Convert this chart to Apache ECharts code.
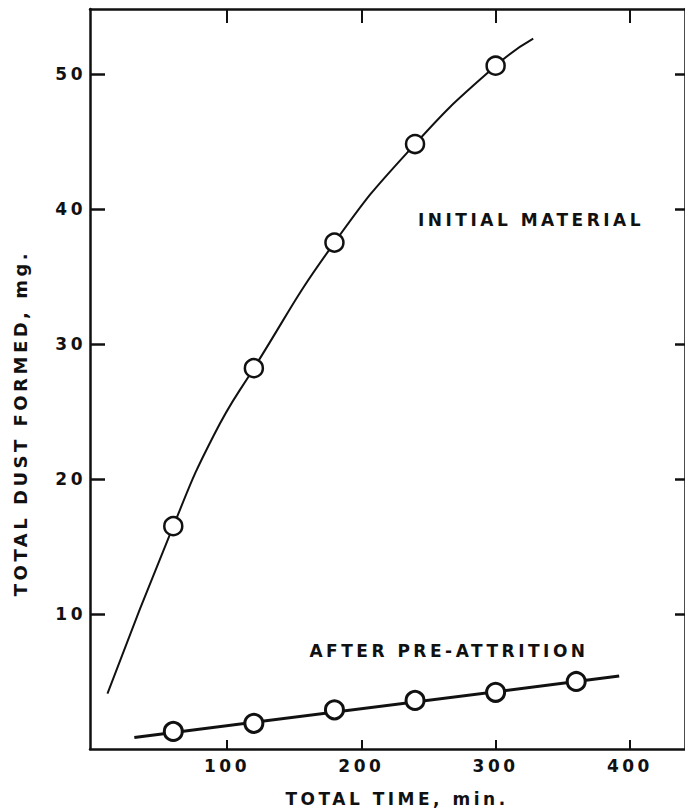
<!DOCTYPE html>
<html>
<head>
<meta charset="utf-8">
<script src="https://cdn.jsdelivr.net/npm/echarts@6/dist/echarts.min.js"></script>
<style>
  html, body { margin: 0; padding: 0; background: #fff; }
  #chart { width: 685px; height: 812px; }
  #chart text { letter-spacing: 3.5px; }
</style>
</head>
<body>
<div id="chart"></div>
<script>
// ---- data ----
const xTicks = [100, 200, 300, 400];
const yTicks = [10, 20, 30, 40, 50];

const timeInitial = [60, 120, 180, 240, 300];
const dustInitial = [16.5, 28.2, 37.5, 44.8, 50.6];

const initialCurveTime = [11, 60, 90, 120, 180, 240, 300, 328];
const initialCurveDust = [4.1, 16.5, 23.2, 28.2, 37.5, 44.8, 50.6, 52.6];

const timeAfter = [60, 120, 180, 240, 300, 360];
const dustAfter = [1.3, 1.9, 2.9, 3.6, 4.2, 5.0];

const afterLineTime = [31, 392];
const afterLineDust = [0.85, 5.4];

const xTitle = 'TOTAL TIME, min.';
const yTitle = 'TOTAL DUST FORMED, mg.';
const labelInitial = 'INITIAL MATERIAL';
const labelAfter = 'AFTER PRE-ATTRITION';

// ---- helpers ----
const zip = (a, b) => a.map((v, i) => [v, b[i]]);
const INK = '#111';
const FONT = 'DejaVu Sans';
const txt = { color: INK, fontFamily: FONT, fontWeight: 'bold', fontSize: 17 };

const chart = echarts.init(document.getElementById('chart'), null, { renderer: 'svg' });

const frameLine = { show: true, onZero: false, lineStyle: { color: INK, width: 2.5 } };

chart.setOption({
  animation: false,
  backgroundColor: '#fff',
  grid: { left: 90, right: -3, top: 9, bottom: 63, containLabel: false },
  xAxis: [
    {
      type: 'value', min: -2, max: 441, position: 'bottom',
      axisLine: frameLine,
      axisTick: { show: true, inside: true, length: 9, customValues: xTicks, lineStyle: { color: INK, width: 2 } },
      axisLabel: { show: true, customValues: xTicks, margin: 8, ...txt },
      splitLine: { show: false }
    },
    {
      type: 'value', min: -2, max: 441, position: 'top',
      axisLine: frameLine,
      axisTick: { show: true, inside: true, length: 14, customValues: xTicks, lineStyle: { color: INK, width: 2 } },
      axisLabel: { show: false },
      splitLine: { show: false }
    }
  ],
  yAxis: [
    {
      type: 'value', min: 0, max: 54.8, position: 'left',
      axisLine: frameLine,
      axisTick: { show: true, inside: true, length: 15, customValues: yTicks, lineStyle: { color: INK, width: 2.5 } },
      axisLabel: { show: true, customValues: yTicks, margin: 4, ...txt },
      splitLine: { show: false }
    },
    {
      type: 'value', min: 0, max: 54.8, position: 'right',
      axisLine: frameLine,
      axisTick: { show: true, inside: true, length: 10, customValues: yTicks, lineStyle: { color: INK, width: 2.5 } },
      axisLabel: { show: false },
      splitLine: { show: false }
    }
  ],
  series: [
    {
      type: 'line', name: 'initial curve',
      data: zip(initialCurveTime, initialCurveDust),
      showSymbol: false, smooth: 0.5,
      lineStyle: { color: INK, width: 2 }, z: 2
    },
    {
      type: 'scatter', name: labelInitial,
      data: zip(timeInitial, dustInitial),
      symbol: 'circle', symbolSize: 18,
      itemStyle: { color: '#fff', borderColor: INK, borderWidth: 2.5, opacity: 1 }, z: 4
    },
    {
      type: 'line', name: 'after line',
      data: zip(afterLineTime, afterLineDust),
      showSymbol: false,
      lineStyle: { color: INK, width: 3 }, z: 2
    },
    {
      type: 'scatter', name: labelAfter,
      data: zip(timeAfter, dustAfter),
      symbol: 'circle', symbolSize: 18,
      itemStyle: { color: '#fff', borderColor: INK, borderWidth: 3, opacity: 1 }, z: 4
    }
  ],
  graphic: [
    { type: 'text', x: 397, y: 799, style: { text: xTitle, align: 'center', verticalAlign: 'middle', fill: INK, font: 'bold 17px "DejaVu Sans"' } },
    { type: 'text', x: 20, y: 423, rotation: Math.PI / 2, style: { text: yTitle, align: 'center', verticalAlign: 'middle', fill: INK, font: 'bold 18px "DejaVu Sans"' } },
    { type: 'text', x: 531, y: 220, style: { text: labelInitial, align: 'center', verticalAlign: 'middle', fill: INK, font: 'bold 17px "DejaVu Sans"' } },
    { type: 'text', x: 449, y: 651, style: { text: labelAfter, align: 'center', verticalAlign: 'middle', fill: INK, font: 'bold 17px "DejaVu Sans"' } }
  ]
});
</script>
</body>
</html>
